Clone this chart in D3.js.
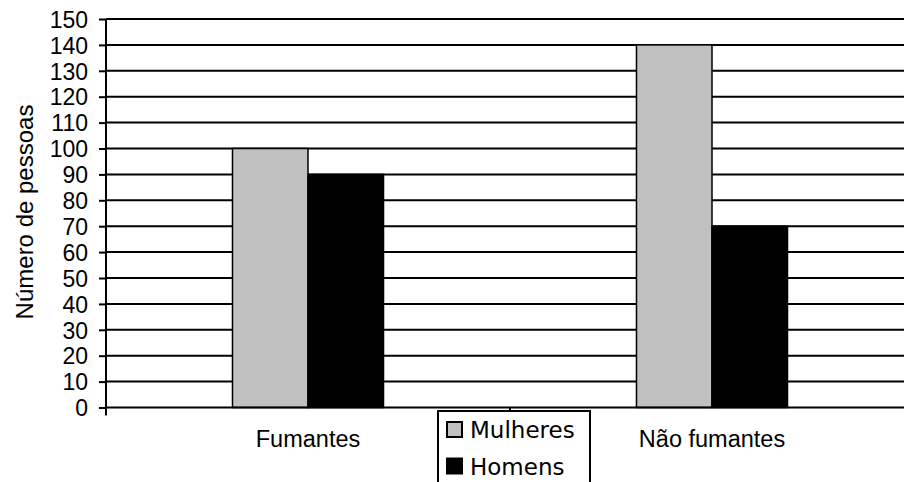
<!DOCTYPE html>
<html><head><meta charset="utf-8">
<script src="https://cdn.jsdelivr.net/npm/d3@7"></script>
<style>body{margin:0;background:#fff;overflow:hidden}svg{display:block}</style>
</head><body>
<svg id="c" width="904" height="482"></svg>
<script>
const categories = ["Fumantes", "Não fumantes"];
const seriesNames = ["Mulheres", "Homens"];
const mulheres = [100, 140];
const homens = [90, 70];
const yTicks = [0,10,20,30,40,50,60,70,80,90,100,110,120,130,140,150];
const colors = ["#c0c0c0", "#000000"];

const svg = d3.select("#c");
const pLeft = 106, pTop = 19, pBottom = 407.5, plotW = 808;
const font = "'Liberation Sans', Arial, sans-serif";

const y = d3.scaleLinear().domain([0,150]).range([pBottom, pTop]);
const x = d3.scaleBand().domain(categories).range([pLeft, pLeft+plotW]).padding(0);
const xs = d3.scaleBand().domain(seriesNames).range([0, x.bandwidth()]).paddingInner(0).paddingOuter(1.675);

// gridlines
svg.append("g").selectAll("line").data(yTicks.filter(d=>d>0)).join("line")
  .attr("x1", pLeft).attr("x2", 904).attr("y1", d=>y(d)).attr("y2", d=>y(d))
  .attr("stroke", "#000").attr("stroke-width", 2);

// bars
const data = categories.map((c,i)=>({cat:c, vals:[mulheres[i], homens[i]]}));
const g = svg.append("g");
data.forEach(d=>{
  seriesNames.forEach((s,j)=>{
    g.append("rect")
      .attr("x", x(d.cat)+xs(s)).attr("width", xs.bandwidth())
      .attr("y", y(d.vals[j])).attr("height", y(0)-y(d.vals[j]))
      .attr("fill", colors[j]).attr("stroke", "#000").attr("stroke-width", 1.5);
  });
});

// y axis
const ya = svg.append("g").attr("transform", `translate(${pLeft},0)`)
  .call(d3.axisLeft(y).tickValues(yTicks).tickSize(7).tickPadding(11));
ya.select(".domain").attr("stroke", "#000").attr("stroke-width", 2).attr("d", `M0,${pTop}V${pBottom+8}`);
ya.selectAll(".tick line").attr("stroke", "#000").attr("stroke-width", 2);
ya.selectAll(".tick text").attr("font-family", font).attr("font-size", 23).attr("fill", "#000").attr("dy", "0.36em");

// x axis
const xa = svg.append("g").attr("transform", `translate(0,${pBottom})`)
  .call(d3.axisBottom(x).tickSize(0).tickPadding(23));
xa.select(".domain").attr("stroke", "#000").attr("stroke-width", 2).attr("d", `M${pLeft},0H904`);
xa.selectAll(".tick text").attr("font-family", font).attr("font-size", 23.5).attr("fill", "#000").attr("dy", "0.71em");
xa.append("g").selectAll("line").data(categories).join("line")
  .attr("x1", d=>x(d)+x.bandwidth()).attr("x2", d=>x(d)+x.bandwidth())
  .attr("y1", 0).attr("y2", 7).attr("stroke", "#000").attr("stroke-width", 2);

// y label
svg.append("text").attr("transform", `translate(24,212) rotate(-90)`)
  .attr("text-anchor", "middle").attr("dominant-baseline", "central")
  .attr("font-family", font).attr("font-size", 24).text("Número de pessoas");

// legend
const lg = svg.append("g").attr("transform", "translate(438,411)");
lg.append("rect").attr("x", 0).attr("y", 0).attr("width", 152).attr("height", 100)
  .attr("fill", "#fff").attr("stroke", "#000").attr("stroke-width", 2);
seriesNames.forEach((s,j)=>{
  const yy = 11 + j*36.5;
  lg.append("rect").attr("x", 9).attr("y", yy).attr("width", 15).attr("height", 15)
    .attr("fill", colors[j]).attr("stroke", "#000").attr("stroke-width", 2);
  lg.append("text").attr("x", 32).attr("y", yy+8).attr("dominant-baseline", "central")
    .attr("font-family", "'DejaVu Sans', Verdana, sans-serif").attr("font-size", 23).text(s);
});
</script>
</body></html>
